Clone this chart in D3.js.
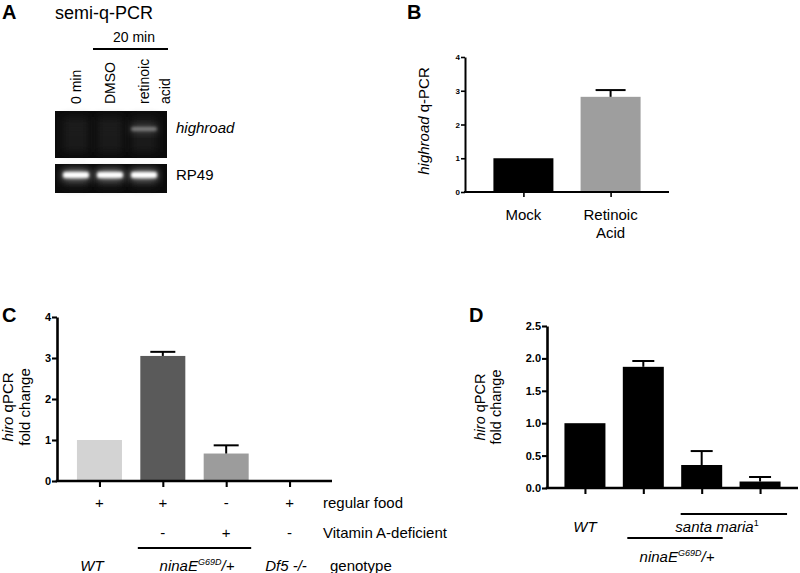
<!DOCTYPE html>
<html><head><meta charset="utf-8">
<script src="https://cdn.jsdelivr.net/npm/d3@7"></script>
<style>
body{margin:0;background:#fff}
svg{display:block}
text{font-family:"Liberation Sans",Arial,Helvetica,sans-serif;fill:#000}
</style>
</head><body>
<svg id="fig" width="800" height="573"></svg>
<script>
// ---------- DATA ----------
// Panel A (gel)
const gelLanes = ["0 min", "DMSO", "retinoic acid"];
const highroadBand = [0.04, 0.04, 0.4];
const rp49Band = [1, 1, 1];
// Panel B
const bCategories = ["Mock", "Retinoic Acid"];
const bValues = [1.0, 2.82];
const bErrors = [0, 0.2];
const bTicks = [0, 1, 2, 3, 4];
// Panel C
const cCategories = ["WT", "ninaE food", "ninaE VAD", "Df5"];
const cValues = [1.0, 3.05, 0.67, 0];
const cErrors = [0, 0.1, 0.2, 0];
const cTicks = [0, 1, 2, 3, 4];
const cRegularFood = ["+", "+", "-", "+"];
const cVitaminA = ["", "-", "+", "-"];
const cColors = ["#d3d3d3", "#5a5a5a", "#9c9c9c", "#000000"];
// Panel D
const dCategories = ["WT", "ninaE", "ninaE;sm", "sm"];
const dValues = [1.0, 1.87, 0.355, 0.1];
const dErrors = [0, 0.09, 0.215, 0.07];
const dTicks = [0, 0.5, 1.0, 1.5, 2.0, 2.5];

// ---------- SETUP ----------
const svg = d3.select("#fig");
svg.append("rect").attr("width", 800).attr("height", 573).attr("fill", "#fff");
const defs = svg.append("defs");
const blur = defs.append("filter").attr("id", "blur").attr("x", "-50%").attr("y", "-100%").attr("width", "200%").attr("height", "300%");
blur.append("feGaussianBlur").attr("stdDeviation", 1.4);
const blur2 = defs.append("filter").attr("id", "blur2").attr("x", "-50%").attr("y", "-100%").attr("width", "200%").attr("height", "300%");
blur2.append("feGaussianBlur").attr("stdDeviation", 4);

function panelLetter(x, y, t) {
  svg.append("text").attr("x", x).attr("y", y).attr("font-size", 20).attr("font-weight", "bold").text(t);
}

// ---------- PANEL A ----------
panelLetter(2, 19, "A");
svg.append("text").attr("x", 55).attr("y", 19).attr("font-size", 18).text("semi-q-PCR");
svg.append("text").attr("x", 134).attr("y", 42).attr("font-size", 14).attr("text-anchor", "middle").text("20 min");
svg.append("line").attr("x1", 93).attr("x2", 168).attr("y1", 49).attr("y2", 49).attr("stroke", "#000").attr("stroke-width", 2);

const laneX = d3.scaleBand().domain(gelLanes).range([59, 161]);
const laneLabels = [["0 min"], ["DMSO"], ["retinoic", "acid"]];
gelLanes.forEach((l, i) => {
  const cx = laneX(l) + laneX.bandwidth() / 2;
  const lines = laneLabels[i];
  lines.forEach((s, j) => {
    const x = lines.length === 1 ? cx : cx + j * 21;
    svg.append("text")
      .attr("transform", `translate(${x + 5},104) rotate(-90)`)
      .attr("font-size", 14).attr("text-anchor", "start").text(s);
  });
});

// gels
const gels = [
  {y: 111, h: 47, bands: highroadBand, by: 129, bh: 4, label: "highroad", italic: true, ly: 133},
  {y: 164, h: 29, bands: rp49Band, by: 175, bh: 6, label: "RP49", italic: false, ly: 180}
];
gels.forEach(g => {
  svg.append("rect").attr("x", 55).attr("y", g.y).attr("width", 112).attr("height", g.h).attr("fill", "#0b0b0b");
  gelLanes.forEach((l, i) => {
    const x0 = laneX(l) + 4, w = laneX.bandwidth() - 8;
    svg.append("rect").attr("x", x0).attr("y", g.y + 6).attr("width", w).attr("height", g.h - 12)
      .attr("fill", "#2a2a2a").attr("opacity", 0.5).attr("filter", "url(#blur2)");
    const v = g.bands[i];
    svg.append("rect").attr("x", x0).attr("y", g.by - g.bh / 2 - 1).attr("width", w).attr("height", g.bh + 2)
      .attr("fill", "#fff").attr("opacity", v * 0.6).attr("filter", "url(#blur2)");
    svg.append("rect").attr("x", x0).attr("y", g.by - g.bh / 2).attr("width", w).attr("height", g.bh)
      .attr("rx", 2).attr("fill", d3.interpolateGreys(1 - v)).attr("opacity", v < 0.1 ? 0.15 : 1).attr("filter", "url(#blur)");
  });
  svg.append("text").attr("x", 176).attr("y", g.ly).attr("font-size", 15)
    .attr("font-style", g.italic ? "italic" : "normal").text(g.label);
});

// ---------- generic bar chart ----------
function barChart(o) {
  const g = svg.append("g");
  const x = d3.scalePoint().domain(o.cats).range([o.x0, o.x1]).padding(o.pad);
  const y = d3.scaleLinear().domain([0, o.max]).range([o.y0, o.y1]);
  g.selectAll("rect.bar").data(o.vals).join("rect")
    .attr("x", (d, i) => x(o.cats[i]) - o.bw / 2)
    .attr("y", d => y(d))
    .attr("width", o.bw)
    .attr("height", d => o.y0 - y(d))
    .attr("fill", (d, i) => o.colors[i]);
  o.vals.forEach((v, i) => {
    const e = o.errs[i];
    if (!e) return;
    const cx = x(o.cats[i]);
    g.append("line").attr("x1", cx).attr("x2", cx).attr("y1", y(v)).attr("y2", y(v + e))
      .attr("stroke", "#000").attr("stroke-width", 2);
    g.append("line").attr("x1", cx - o.cap / 2).attr("x2", cx + o.cap / 2).attr("y1", y(v + e)).attr("y2", y(v + e))
      .attr("stroke", "#000").attr("stroke-width", 2);
  });
  const ya = g.append("g").attr("transform", `translate(${o.x0},0)`)
    .call(d3.axisLeft(y).tickValues(o.ticks).tickSize(o.tick).tickSizeOuter(0).tickPadding(1).tickFormat(o.fmt));
  ya.select(".domain").attr("stroke-width", o.sw);
  ya.selectAll(".tick line").attr("stroke-width", o.sw * 0.8);
  ya.selectAll(".tick text").attr("font-size", o.fs).attr("font-weight", "bold")
    .attr("font-family", "'Liberation Sans',Arial,sans-serif");
  const xa = g.append("g").attr("transform", `translate(0,${o.y0})`)
    .call(d3.axisBottom(x).tickSize(o.tick + 1).tickSizeOuter(0).tickFormat(""));
  xa.select(".domain").attr("stroke-width", o.sw).attr("d", `M${o.x0 - o.sw / 2},0H${o.x1}`);
  xa.selectAll(".tick line").attr("stroke-width", o.sw * 0.8);
  return {x, y};
}

// ---------- PANEL B ----------
panelLetter(407, 19, "B");
const B = barChart({cats: bCategories, vals: bValues, errs: bErrors, ticks: bTicks, max: 4,
  x0: 465, x1: 669, y0: 192, y1: 57, pad: 0.67, bw: 60, cap: 30, tick: 4, sw: 2, fs: 8,
  colors: ["#000", "#9e9e9e"], fmt: d3.format("d")});
svg.append("text").attr("transform", "translate(429,121) rotate(-90)").attr("text-anchor", "middle").attr("font-size", 15)
  .call(t => { t.append("tspan").attr("font-style", "italic").text("highroad"); t.append("tspan").text(" q-PCR"); });
const bLabelLines = [["Mock"], ["Retinoic", "Acid"]];
bCategories.forEach((c, i) => {
  bLabelLines[i].forEach((s, j) => {
    svg.append("text").attr("x", B.x(c)).attr("y", 220 + j * 18).attr("text-anchor", "middle").attr("font-size", 15).text(s);
  });
});

// ---------- PANEL C ----------
panelLetter(2, 322, "C");
const C = barChart({cats: cCategories, vals: cValues, errs: cErrors, ticks: cTicks, max: 4,
  x0: 57, x1: 332, y0: 481, y1: 317, pad: 0.67, bw: 45, cap: 25, tick: 5, sw: 2.6, fs: 11,
  colors: cColors, fmt: d3.format("d")});
svg.append("text").attr("transform", "translate(13,407) rotate(-90)").attr("text-anchor", "middle").attr("font-size", 15)
  .call(t => { t.append("tspan").attr("font-style", "italic").text("hiro"); t.append("tspan").text(" qPCR"); });
svg.append("text").attr("transform", "translate(30,407) rotate(-90)").attr("text-anchor", "middle").attr("font-size", 15).text("fold change");
cCategories.forEach((c, i) => {
  svg.append("text").attr("x", C.x(c)).attr("y", 508).attr("text-anchor", "middle").attr("font-size", 15).text(cRegularFood[i]);
  svg.append("text").attr("x", C.x(c)).attr("y", 538).attr("text-anchor", "middle").attr("font-size", 15).text(cVitaminA[i]);
});
svg.append("text").attr("x", 323).attr("y", 508).attr("font-size", 15).text("regular food");
svg.append("text").attr("x", 323).attr("y", 538).attr("font-size", 15).text("Vitamin A-deficient");
svg.append("line").attr("x1", C.x(cCategories[1]) - 25).attr("x2", C.x(cCategories[2]) + 25).attr("y1", 548).attr("y2", 548)
  .attr("stroke", "#000").attr("stroke-width", 2);
svg.append("text").attr("x", 92).attr("y", 571).attr("text-anchor", "middle").attr("font-size", 15).attr("font-style", "italic").text("WT");
svg.append("text").attr("x", 197).attr("y", 571).attr("text-anchor", "middle").attr("font-size", 15).attr("font-style", "italic")
  .call(t => { t.append("tspan").text("ninaE"); t.append("tspan").attr("font-size", 9).attr("dy", -6).text("G69D");
    t.append("tspan").attr("dy", 6).text("/+"); });
svg.append("text").attr("x", 286).attr("y", 571).attr("text-anchor", "middle").attr("font-size", 15).attr("font-style", "italic").text("Df5 -/-");
svg.append("text").attr("x", 330).attr("y", 571).attr("font-size", 15).text("genotype");

// ---------- PANEL D ----------
panelLetter(469, 322, "D");
const D = barChart({cats: dCategories, vals: dValues, errs: dErrors, ticks: dTicks, max: 2.5,
  x0: 547, x1: 798, y0: 488, y1: 326, pad: 0.65, bw: 41, cap: 22, tick: 5, sw: 2.6, fs: 11,
  colors: ["#000", "#000", "#000", "#000"], fmt: d3.format(".1f")});
svg.append("text").attr("transform", "translate(485,407) rotate(-90)").attr("text-anchor", "middle").attr("font-size", 14.5)
  .call(t => { t.append("tspan").attr("font-style", "italic").text("hiro"); t.append("tspan").text(" qPCR"); });
svg.append("text").attr("transform", "translate(501,407) rotate(-90)").attr("text-anchor", "middle").attr("font-size", 14.5).text("fold change");
svg.append("text").attr("x", D.x(dCategories[0])).attr("y", 532).attr("text-anchor", "middle").attr("font-size", 15).attr("font-style", "italic").text("WT");
svg.append("line").attr("x1", D.x(dCategories[2]) - 21).attr("x2", D.x(dCategories[3]) + 27).attr("y1", 514).attr("y2", 514)
  .attr("stroke", "#000").attr("stroke-width", 2);
svg.append("text").attr("x", 717).attr("y", 532).attr("text-anchor", "middle").attr("font-size", 15).attr("font-style", "italic")
  .call(t => { t.append("tspan").text("santa maria"); t.append("tspan").attr("font-size", 9).attr("dy", -6).attr("font-style", "normal").text("1"); });
svg.append("line").attr("x1", D.x(dCategories[1]) - 16).attr("x2", D.x(dCategories[2]) + 21).attr("y1", 538).attr("y2", 538)
  .attr("stroke", "#000").attr("stroke-width", 2);
svg.append("text").attr("x", 677).attr("y", 562).attr("text-anchor", "middle").attr("font-size", 15).attr("font-style", "italic")
  .call(t => { t.append("tspan").text("ninaE"); t.append("tspan").attr("font-size", 9).attr("dy", -6).text("G69D");
    t.append("tspan").attr("dy", 6).text("/+"); });
</script>
</body></html>
